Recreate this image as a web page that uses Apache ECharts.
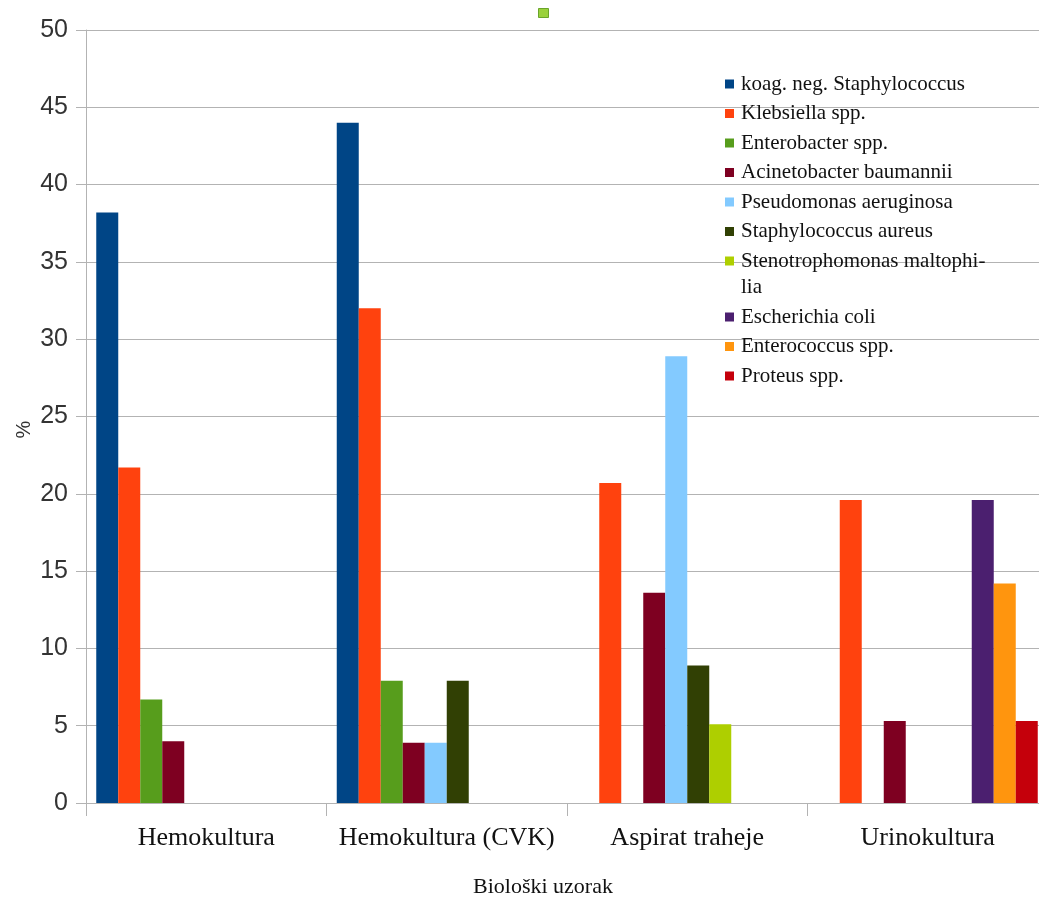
<!DOCTYPE html>
<html>
<head>
<meta charset="utf-8">
<script src="https://cdn.jsdelivr.net/npm/echarts@6/dist/echarts.min.js"></script>
<style>html,body{margin:0;padding:0;background:#fff;overflow:hidden}#c{width:1039px;height:900px}</style>
</head>
<body>
<div id="c"></div>
<script>
const categories = ['Hemokultura', 'Hemokultura (CVK)', 'Aspirat traheje', 'Urinokultura'];
const seriesNames = ['koag. neg. Staphylococcus', 'Klebsiella spp.', 'Enterobacter spp.', 'Acinetobacter baumannii', 'Pseudomonas aeruginosa', 'Staphylococcus aureus', 'Stenotrophomonas maltophilia', 'Escherichia coli', 'Enterococcus spp.', 'Proteus spp.'];
const seriesColors = ['#004586', '#ff420e', '#579d1c', '#7e0021', '#83caff', '#314004', '#aecf00', '#4b1f6f', '#ff950e', '#c5000b'];
const koagNeg = [38.2, 44, null, null];
const klebsiella = [21.7, 32, 20.7, 19.6];
const enterobacter = [6.7, 7.9, null, null];
const acinetobacter = [4.0, 3.9, 13.6, 5.3];
const pseudomonas = [null, 3.9, 28.9, null];
const staphAureus = [null, 7.9, 8.9, null];
const stenotrophomonas = [null, null, 5.1, null];
const ecoli = [null, null, null, 19.6];
const enterococcus = [null, null, null, 14.2];
const proteus = [null, null, null, 5.3];
const yTicks = [0, 5, 10, 15, 20, 25, 30, 35, 40, 45, 50];

const values = [koagNeg, klebsiella, enterobacter, acinetobacter, pseudomonas, staphAureus, stenotrophomonas, ecoli, enterococcus, proteus];

const chart = echarts.init(document.getElementById('c'));
const grey = '#b3b3b3';
const legendText = {fontFamily: 'Liberation Serif', fontSize: 21, color: '#111', lineHeight: 26, padding: [0, 0, 0, 2]};
const legendBase = {
  orient: 'vertical', left: 725, padding: 0, itemGap: 3.5,
  itemWidth: 9, itemHeight: 9, icon: 'rect', textStyle: legendText
};
chart.setOption({
  animation: false,
  backgroundColor: '#fff',
  grid: {left: 86, top: 30, bottom: 97, right: -9, containLabel: false, outerBoundsMode: 'none'},
  legend: [
    Object.assign({}, legendBase, {
      top: 71,
      formatter: function (n) { return n === 'Stenotrophomonas maltophilia' ? 'Stenotrophomonas maltophi-' : n; },
      data: seriesNames.slice(0, 7)
    }),
    Object.assign({}, legendBase, {
      top: 304,
      data: seriesNames.slice(7)
    })
  ],
  xAxis: {
    type: 'category', data: categories,
    name: 'Biološki uzorak', nameLocation: 'middle', nameGap: 73, nameMoveOverlap: false,
    nameTextStyle: {fontFamily: 'Liberation Serif', fontSize: 22, color: '#111', padding: [0, 48, 0, 0]},
    axisLine: {lineStyle: {color: grey, width: 1}},
    axisTick: {show: true, length: 13, lineStyle: {color: grey}},
    axisLabel: {interval: 0, fontFamily: 'Liberation Serif', fontSize: 26, color: '#111', margin: 22}
  },
  yAxis: {
    type: 'value', min: 0, max: 50, interval: 5,
    name: '%', nameLocation: 'middle', nameGap: 52, nameRotate: 90, nameMoveOverlap: false,
    nameTextStyle: {fontFamily: 'Liberation Sans', fontSize: 20, color: '#333', padding: [0, 26, 0, 0]},
    axisLine: {show: true, lineStyle: {color: grey, width: 1}},
    axisTick: {show: true, length: 10, lineStyle: {color: grey}},
    splitLine: {show: true, lineStyle: {color: grey, width: 1}},
    axisLabel: {fontFamily: 'Liberation Sans', fontSize: 25, color: '#333', margin: 18,
      formatter: function (v) { return yTicks.indexOf(v) >= 0 ? String(v) : ''; }}
  },
  series: seriesNames.map(function (name, i) {
    return {
      name: name, type: 'bar', data: values[i],
      barWidth: 22, barGap: '0%',
      itemStyle: {color: seriesColors[i]}
    };
  }),
  graphic: [{
    type: 'rect', left: 538, top: 8,
    shape: {width: 10, height: 9},
    style: {fill: '#9ad13c', stroke: '#6aa52a', lineWidth: 1}
  }, {
    type: 'text', x: 741, y: 287,
    style: {text: 'lia', font: '21px "Liberation Serif"', fill: '#111', textVerticalAlign: 'middle', verticalAlign: 'middle'}
  }]
});
</script>
</body>
</html>
